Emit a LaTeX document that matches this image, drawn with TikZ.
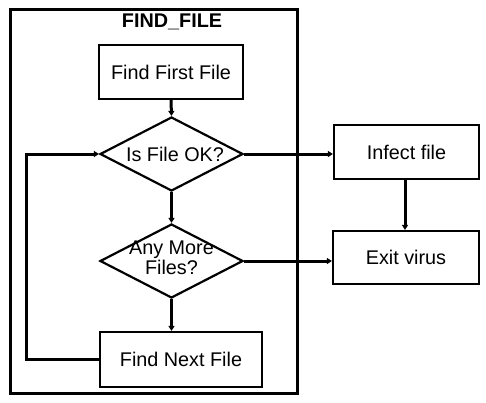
\documentclass[tikz,border=0pt]{standalone}
\usepackage{fontspec}
\setmainfont{Liberation Sans}
\usepackage{tikz}
\usetikzlibrary{shapes.geometric,arrows.meta}

\begin{document}
\begin{tikzpicture}[x=1pt,y=-1pt,
    every node/.style={font=\fontsize{19.8}{20}\selectfont},
    box/.style={draw,line width=2.2pt,rectangle,inner sep=0pt},
    decide/.style={draw,line width=2.2pt,diamond,inner sep=0pt,aspect=2,
                   minimum width=143pt,minimum height=74pt},
    flow/.style={line width=3pt,-{Triangle[length=5pt,width=6pt]}}]
            \useasboundingbox (0,0) rectangle (486,402);
            % the FIND_FILE frame
            \draw[line width=3pt] (10,9) rectangle (297,393);
            \node[anchor=base,inner sep=0pt] at (172,27) (title) {\bfseries FIND\_FILE};

            \node[box,minimum width=144pt,minimum height=54pt] at (171,72) (first) {Find First File};
            \node[decide] at (171.5,154) (ok) {};
            \node at (175,154) (oktext) {Is File OK?};
            \node[decide] at (171.5,261) (more) {};
            \node[align=center] at (171.5,258) (moretext) {Any More\\Files?};
            \node[box,minimum width=162pt,minimum height=55pt] at (181,359.5) (next) {Find Next File};

            \node[box,minimum width=145pt,minimum height=54pt] at (406.5,152) (infect) {Infect file};
            \node[box,minimum width=146pt,minimum height=53pt] at (406,257.5) (exit) {Exit virus};

            \draw[flow] (first.south) -- (ok.north);
            \draw[flow] (ok.south) -- (more.north);
            \draw[flow] (more.south) -- (more.south |- next.north);
            \draw[flow] (next.west) -- ++(-72,0) |- (ok.west);
            \draw[flow] (ok.east) -- (ok.east -| infect.west);
            \draw[flow] (more.east) -- (more.east -| exit.west);
            \draw[flow] (infect.south -| 405,0) -- (exit.north -| 405,0);
\end{tikzpicture}
\end{document}
